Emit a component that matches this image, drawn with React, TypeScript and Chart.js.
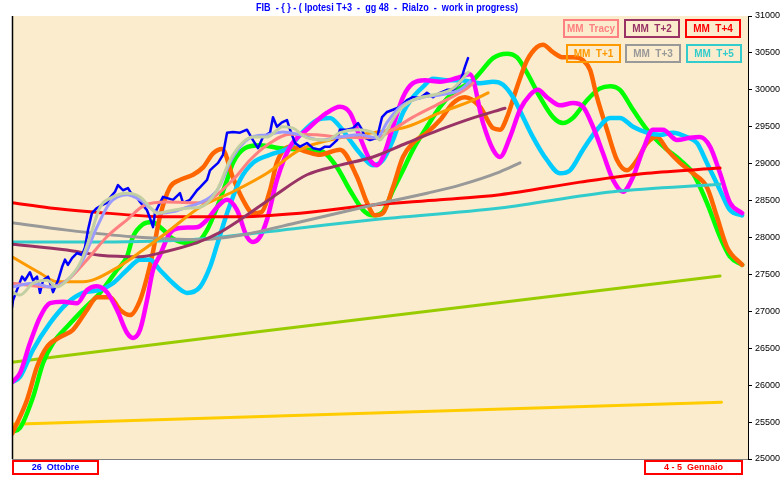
import React, { useEffect, useRef } from 'react';
import { Chart, registerables } from 'chart.js';

Chart.register(...registerables);

type P = [number, number];

const TITLE = 'FIB  - { } - ( Ipotesi T+3  -  gg 48  -  Rialzo  -  work in progress)';
const START_LABEL = '26  Ottobre';
const END_LABEL = '4 - 5  Gennaio';
const Y_MIN = 25000;
const Y_MAX = 31000;
const Y_STEP = 500;
const X_MIN = 0;
const X_MAX = 50;

const legendLabels = ['MM  Tracy', 'MM  T+2', 'MM  T+4', 'MM  T+1', 'MM  T+3', 'MM  T+5'];
const legendColors = ['#FF8080', '#993366', '#FF0000', '#FF9900', '#999999', '#33CCCC'];

// price (FIB) – day index vs points
const price: P[] = [
  [0, 27050], [0.07, 27150], [0.34, 27290], [0.68, 27470], [0.88, 27420], [1.22, 27530], [1.43, 27420],
  [1.7, 27470], [1.9, 27250], [2.11, 27420], [2.45, 27470], [2.79, 27260], [3.13, 27420], [3.4, 27600],
  [3.6, 27700], [3.8, 27630], [4.08, 27720], [4.42, 27790], [4.76, 27760], [4.96, 27870], [5.16, 28100],
  [5.43, 28330], [5.77, 28400], [6.11, 28440], [6.45, 28470], [6.66, 28540], [7.0, 28620], [7.2, 28710],
  [7.54, 28640], [7.88, 28670], [8.15, 28580], [8.49, 28540], [8.7, 28480], [9.17, 28370], [9.38, 28260],
  [9.58, 28140], [9.71, 28330], [10.05, 28470], [10.26, 28550], [10.94, 28510], [11.41, 28600], [11.62, 28470],
  [12.09, 28510], [12.57, 28640], [12.77, 28680], [13.25, 28780], [13.45, 28910], [13.66, 28950], [14.0, 29010],
  [14.33, 29120], [14.61, 29420], [15.01, 29430], [15.49, 29420], [15.96, 29460], [16.37, 29320], [16.71, 29210],
  [17.05, 29360], [17.53, 29420], [17.73, 29630], [18.0, 29500], [18.34, 29560], [18.68, 29590], [18.89, 29460],
  [19.23, 29280], [19.57, 29230], [20.04, 29280], [20.45, 29210], [20.92, 29190], [21.26, 29230], [21.6, 29230],
  [22.08, 29320], [22.28, 29460], [22.76, 29460], [23.17, 29480], [23.51, 29550], [23.78, 29460], [23.98, 29350],
  [24.32, 29320], [24.8, 29350], [25.14, 29630], [25.48, 29700], [25.88, 29730], [26.36, 29770], [26.83, 29860],
  [27.24, 29900], [27.72, 29890], [28.19, 29960], [28.6, 29900], [29.08, 29960], [29.55, 30000], [29.96, 30000],
  [30.43, 30090], [30.77, 30310], [30.98, 30430],
];

const mmSage: P[] = [
  [0, 27260], [0.54, 27220], [1.43, 27380], [2.38, 27420], [3.06, 27330], [3.74, 27420], [4.62, 27650],
  [5.3, 28010], [5.98, 28410], [6.66, 28530], [7.81, 28600], [8.7, 28550], [9.38, 28410], [9.85, 28330],
  [10.94, 28370], [12.09, 28400], [12.77, 28410], [13.93, 28640], [14.81, 29050], [15.69, 29290],
  [16.37, 29360], [17.32, 29360], [18.41, 29500], [19.09, 29480], [20.04, 29350], [21.4, 29320],
  [22.28, 29420], [23.44, 29460], [24.52, 29420], [25.0, 29320], [25.48, 29460], [26.16, 29690],
  [27.24, 29860], [28.6, 29930], [29.96, 30020], [31.0, 30240],
];

const mmLavender: P[] = [
  [0, 27330], [1.43, 27380], [2.58, 27330], [3.74, 27420], [4.82, 27700], [5.77, 28140], [6.66, 28470],
  [7.81, 28580], [8.7, 28510], [10.05, 28330], [10.94, 28350], [11.89, 28410], [12.77, 28470], [13.93, 28640],
  [15.01, 29090], [16.17, 29350], [17.32, 29390], [18.41, 29430], [19.57, 29390], [20.92, 29320],
  [22.28, 29360], [23.64, 29390], [24.8, 29350], [25.48, 29560], [26.36, 29770], [27.72, 29890],
  [29.08, 29930], [30.43, 30000], [31.11, 30110],
];

const mmTracy: P[] = [
  [0, 27380], [2.58, 27330], [3.74, 27420], [5.1, 27700], [6.45, 28010], [7.81, 28240], [9.04, 28440],
  [10.53, 28480], [12.77, 28470], [15.01, 28780], [16.17, 29050], [17.32, 29250], [18.89, 29400],
  [20.72, 29390], [22.28, 29360], [24.8, 29350], [25.68, 29440], [27.24, 29630], [29.08, 29820],
  [30.91, 30020], [31.32, 30090],
];

const mmT1: P[] = [
  [0, 27740], [1.9, 27520], [3.06, 27400], [4.82, 27400], [7.13, 27590], [8.9, 27830], [10.53, 28070],
  [12.77, 28410], [15.01, 28620], [17.32, 28870], [19.57, 29190], [22.28, 29350], [24.52, 29420],
  [26.83, 29500], [29.08, 29690], [31.32, 29860], [32.34, 29960],
];

const mmT2: P[] = [
  [0, 27910], [3.74, 27830], [5.98, 27760], [8.7, 27740], [10.26, 27800], [12.57, 27930], [14.13, 28070],
  [15.49, 28240], [17.73, 28550], [20.04, 28850], [22.28, 28980], [24.52, 29090], [26.83, 29280],
  [29.08, 29460], [31.32, 29620], [33.49, 29750],
];

const mmT3: P[] = [
  [0, 28200], [3.74, 28100], [8.22, 28010], [12.77, 27970], [15.49, 28030], [19.57, 28210], [24.52, 28440],
  [28.19, 28600], [30.43, 28710], [33.15, 28890], [34.51, 29010],
];

const mmT4: P[] = [
  [0, 28470], [2.58, 28400], [5.3, 28350], [10.53, 28280], [15.01, 28280], [19.57, 28330], [24.52, 28440],
  [29.08, 28510], [33.15, 28580], [38.59, 28750], [43.14, 28870], [48.1, 28940],
];

const mmT5: P[] = [
  [0, 27940], [5.98, 27940], [12.77, 27980], [19.57, 28130], [24.52, 28240], [33.15, 28400], [40.83, 28620],
  [48.1, 28720],
];

const trendUpper: P[] = [[0, 26310], [17.0, 26730], [48.1, 27480]];
const trendLower: P[] = [[0, 25470], [48.2, 25770]];

const cycleGreen: P[] = [
  [0, 25370], [0.54, 25420], [1.43, 25840], [2.11, 26300], [2.79, 26570], [3.74, 26790], [4.82, 27020],
  [5.98, 27250], [7.13, 27560], [7.81, 27740], [8.22, 28010], [8.9, 28180], [9.51, 28210], [10.19, 28120],
  [10.87, 27990], [11.75, 27930], [12.57, 27940], [13.25, 28100], [13.93, 28410], [14.61, 28780],
  [15.01, 29010], [15.83, 29210], [16.85, 29250], [18.21, 29210], [20.04, 29190], [21.13, 29160],
  [22.08, 28950], [22.96, 28640], [23.85, 28370], [24.52, 28300], [25.2, 28350], [25.88, 28640],
  [26.56, 28910], [27.24, 29190], [28.19, 29500], [29.08, 29770], [29.96, 29960], [31.32, 30130],
  [31.79, 30230], [32.68, 30430], [33.63, 30490], [34.31, 30440], [34.99, 30230], [35.87, 29900],
  [36.75, 29630], [37.43, 29550], [38.11, 29620], [39.06, 29860], [39.95, 30020], [40.63, 30050],
  [41.3, 30000], [42.19, 29730], [43.14, 29460], [44.5, 29190], [45.38, 29050], [46.26, 28870],
  [47.21, 28470], [48.1, 28010], [48.78, 27740], [49.6, 27630],
];

const cycleOrange: P[] = [
  [0, 25340], [1.02, 25800], [1.7, 26250], [2.38, 26520], [3.26, 26650], [4.14, 26750], [5.1, 27020],
  [5.77, 27190], [6.66, 27190], [7.34, 27020], [8.02, 26950], [8.7, 27150], [9.17, 27460], [9.51, 27740],
  [10.05, 28280], [10.73, 28680], [11.41, 28780], [12.3, 28850], [12.98, 28950], [13.66, 29140],
  [14.27, 29200], [15.01, 28810], [15.69, 28510], [16.37, 28330], [16.98, 28350], [17.53, 28640],
  [18.0, 29020], [18.89, 29230], [20.04, 29160], [20.92, 29120], [22.28, 29190], [23.44, 28820],
  [24.12, 28470], [24.66, 28300], [25.2, 28330], [25.88, 28680], [26.56, 29090], [27.24, 29280],
  [28.19, 29420], [29.08, 29590], [29.96, 29820], [30.77, 29900], [31.79, 29770], [32.68, 29480],
  [33.15, 29460], [33.63, 29630], [34.31, 30040], [34.99, 30400], [35.67, 30580], [36.07, 30610],
  [36.75, 30510], [37.43, 30440], [38.11, 30440], [38.79, 30400], [39.27, 30270], [39.74, 29900],
  [40.42, 29460], [41.1, 29050], [41.78, 28910], [42.46, 29050], [43.14, 29280], [43.82, 29360],
  [44.5, 29190], [45.38, 29010], [46.26, 28870], [47.21, 28680], [47.89, 28280], [48.57, 27870],
  [49.6, 27630],
];

const cycleMagenta: P[] = [
  [0, 26040], [0.54, 26160], [1.22, 26570], [1.9, 26920], [2.58, 27110], [3.46, 27130], [4.42, 27110],
  [5.1, 27290], [5.77, 27340], [6.45, 27260], [7.13, 27020], [7.81, 26710], [8.22, 26640], [8.7, 26750],
  [9.17, 27150], [9.58, 27560], [10.05, 27760], [10.73, 28060], [11.41, 28130], [12.57, 28140],
  [13.25, 28240], [13.93, 28410], [14.61, 28510], [15.29, 28370], [15.96, 28010], [16.37, 27940],
  [16.85, 28010], [17.32, 28240], [18.0, 28780], [18.89, 29230], [20.04, 29460], [21.4, 29690],
  [22.28, 29770], [22.96, 29690], [23.64, 29360], [24.32, 29050], [24.8, 28980], [25.2, 29090],
  [25.88, 29500], [26.56, 29900], [27.24, 30090], [28.06, 30130], [29.08, 30110], [30.23, 30160],
  [31.11, 30210], [32.0, 29550], [32.68, 29190], [33.15, 29090], [33.83, 29360], [34.51, 29730],
  [35.19, 29930], [35.73, 30000], [36.34, 29900], [37.23, 29790], [38.11, 29820], [38.79, 29770],
  [39.47, 29500], [40.15, 29140], [40.83, 28780], [41.51, 28620], [42.19, 28820], [42.87, 29190],
  [43.55, 29460], [44.22, 29460], [45.18, 29320], [46.06, 29350], [46.74, 29360], [47.42, 29230],
  [48.1, 28870], [48.78, 28470], [49.6, 28330],
];

const cycleSky: P[] = [
  [0, 26040], [0.54, 26110], [1.43, 26480], [2.58, 26840], [3.74, 27110], [4.82, 27250], [5.98, 27290],
  [6.86, 27380], [7.81, 27560], [8.7, 27700], [9.38, 27700], [10.05, 27560], [10.94, 27380], [11.89, 27250],
  [12.77, 27330], [13.45, 27600], [13.93, 27900], [14.61, 28330], [15.49, 28780], [16.37, 29010],
  [17.53, 29120], [18.89, 29230], [19.57, 29390], [20.72, 29590], [21.6, 29620], [22.28, 29500],
  [22.96, 29320], [23.64, 29140], [24.52, 28980], [25.2, 29050], [25.88, 29320], [26.56, 29690],
  [27.24, 29900], [27.92, 30040], [28.6, 30150], [29.55, 30130], [30.43, 30130], [31.79, 30090],
  [32.68, 30110], [33.36, 30070], [34.04, 29900], [34.72, 29630], [35.39, 29360], [36.34, 29050],
  [37.23, 28870], [37.91, 28910], [38.79, 29190], [39.74, 29460], [40.63, 29620], [41.3, 29620],
  [42.19, 29500], [43.14, 29420], [44.02, 29390], [44.9, 29420], [45.86, 29360], [46.53, 29280],
  [47.21, 29010], [48.1, 28640], [48.78, 28370], [49.6, 28300],
];

const FONT = '"Liberation Sans", Arial, sans-serif';
const PLOT_BG = '#FBECCD';

const decor = {
  id: 'decor',
  beforeDraw(chart: any) {
    const { ctx, chartArea: a } = chart;
    ctx.save();
    ctx.fillStyle = '#ffffff';
    ctx.fillRect(0, 0, chart.width, chart.height);
    ctx.fillStyle = PLOT_BG;
    ctx.fillRect(a.left, a.top, a.right - a.left, a.bottom - a.top);
    ctx.restore();
  },
  afterDraw(chart: any) {
    const { ctx, chartArea: a } = chart;
    ctx.save();
    // frame lines
    ctx.strokeStyle = '#000';
    ctx.lineWidth = 1.5;
    ctx.beginPath();
    ctx.moveTo(a.left + 0.5, a.top);
    ctx.lineTo(a.left + 0.5, a.bottom);
    ctx.stroke();
    ctx.strokeStyle = '#808080';
    ctx.lineWidth = 1;
    ctx.beginPath();
    ctx.moveTo(a.left, a.bottom + 0.5);
    ctx.lineTo(a.right, a.bottom + 0.5);
    ctx.stroke();

    // title
    ctx.fillStyle = '#0000FF';
    ctx.font = `bold 10px ${FONT}`;
    ctx.textAlign = 'center';
    ctx.textBaseline = 'middle';
    ctx.fillText(TITLE, 387, 8, 262);

    // legend boxes
    const boxes = [
      [564, 20, 54, 17], [625, 20, 54, 17], [686, 20, 54, 17],
      [567, 45, 53, 17], [626, 45, 54, 17], [687, 45, 54, 17],
    ];
    boxes.forEach((b, i) => {
      ctx.strokeStyle = legendColors[i];
      ctx.lineWidth = 2;
      ctx.strokeRect(b[0], b[1], b[2], b[3]);
      ctx.fillStyle = legendColors[i];
      ctx.font = `bold 10px ${FONT}`;
      ctx.fillText(legendLabels[i], b[0] + b[2] / 2, b[1] + b[3] / 2 + 0.5, b[2] - 6);
    });

    // bottom date boxes
    const dateBoxes: [number, number, number, number, string, string][] = [
      [13, 461, 85, 13, START_LABEL, '#0000FF'],
      [645, 461, 97, 13, END_LABEL, '#FF0000'],
    ];
    dateBoxes.forEach(([x, y, w, h, t, c]) => {
      ctx.fillStyle = '#ffffff';
      ctx.fillRect(x, y, w, h);
      ctx.strokeStyle = '#FF0000';
      ctx.lineWidth = 2;
      ctx.strokeRect(x, y, w, h);
      ctx.fillStyle = c;
      ctx.font = `bold 9px ${FONT}`;
      ctx.fillText(t, x + w / 2, y + h / 2 + 0.5, w - 10);
    });
    ctx.restore();
  },
};

function ds(label: string, data: P[], color: string, width: number, smooth = true) {
  return {
    label,
    data: data.map(([x, y]) => ({ x, y })),
    borderColor: color,
    backgroundColor: color,
    borderWidth: width,
    pointRadius: 0,
    pointHoverRadius: 0,
    fill: false,
    tension: smooth ? 0.4 : 0,
    cubicInterpolationMode: smooth ? 'monotone' : 'default',
    borderCapStyle: 'round',
    borderJoinStyle: 'round',
  } as any;
}

export default function App() {
  const ref = useRef<HTMLCanvasElement>(null);
  useEffect(() => {
    const canvas = ref.current;
    if (!canvas) return;
    const chart = new Chart(canvas, {
      type: 'line',
      data: {
        datasets: [
          ds('sage', mmSage, '#C2CFA2', 3),
          ds('lavender', mmLavender, '#9999FF', 3),
          ds('MM Tracy', mmTracy, '#FF8080', 3),
          ds('FIB', price, '#0000FF', 2.5, false),
          ds('MM T+1', mmT1, '#FF9900', 3),
          ds('MM T+2', mmT2, '#993366', 3),
          ds('MM T+3', mmT3, '#999999', 3),
          ds('MM T+4', mmT4, '#FF0000', 3),
          ds('MM T+5', mmT5, '#33CCCC', 3),
          ds('magenta', cycleMagenta, '#FF00FF', 4.5),
          ds('sky', cycleSky, '#00CCFF', 4.5),
          ds('orange', cycleOrange, '#FF6600', 4.5),
          ds('green', cycleGreen, '#00FF00', 4.5),
          ds('trend up', trendUpper, '#99CC00', 3, false),
          ds('trend low', trendLower, '#FFCC00', 3, false),
        ],
      },
      options: {
        responsive: false,
        animation: false,
        events: [],
        layout: { padding: { left: 12, top: 16, bottom: 21, right: 0 } },
        plugins: { legend: { display: false }, title: { display: false }, tooltip: { enabled: false } },
        scales: {
          x: { type: 'linear', min: X_MIN, max: X_MAX, display: false },
          y: {
            position: 'right',
            min: Y_MIN,
            max: Y_MAX,
            afterFit: (s: any) => { s.width = 35; },
            ticks: {
              stepSize: Y_STEP,
              color: '#000',
              padding: 3,
              font: { family: FONT, size: 9 },
              callback: (v: any) => String(v),
            },
            grid: { drawOnChartArea: false, drawTicks: true, tickLength: 4, color: '#000' },
            border: { display: true, color: '#000', width: 1 },
          },
        },
      },
      plugins: [decor],
    });
    return () => chart.destroy();
  }, []);
  return (
    <div style={{ position: 'absolute', left: 0, top: 0, width: 783, height: 480 }}>
      <canvas ref={ref} width={783} height={480} style={{ display: 'block' }} />
    </div>
  );
}
